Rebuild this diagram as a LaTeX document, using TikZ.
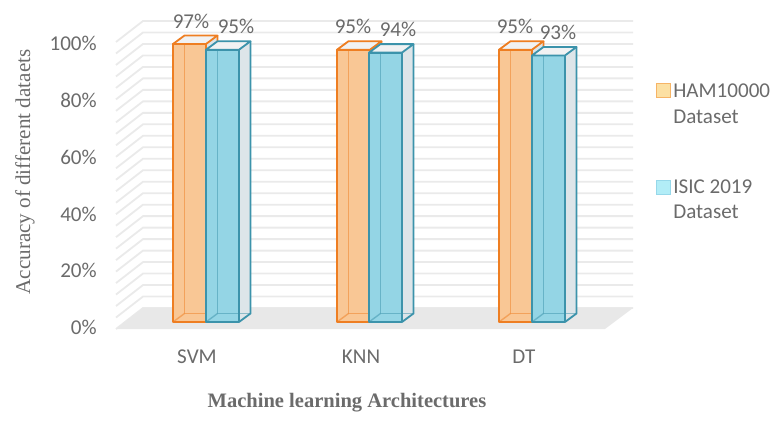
\documentclass[tikz,border=0pt]{standalone}
\usepackage{fontspec}
\setmainfont{Carlito}
\newfontfamily\timesfont{Liberation Serif}
\usepackage{tikz}
\usetikzlibrary{positioning}

\definecolor{hamedge}{HTML}{EE7E22}
\definecolor{hamface}{HTML}{F9C795}
\definecolor{isicedge}{HTML}{3C93AB}
\definecolor{isicface}{HTML}{94D5E5}
\definecolor{sidegray}{HTML}{DDE5E9}
\definecolor{topgray}{HTML}{F1F2F3}
\definecolor{gridgray}{HTML}{EAEAEA}
\definecolor{floorgray}{HTML}{E8E8E8}
\definecolor{labelgray}{HTML}{6B6B6B}
\definecolor{hamkeyface}{HTML}{FCE0A3}
\definecolor{hamkeyedge}{HTML}{F6B466}
\definecolor{isickeyface}{HTML}{B2EDF7}
\definecolor{isickeyedge}{HTML}{97D8EA}

% one 3d bar: left x, value, face colour, edge colour
\newcommand{\accbar}[4]{%
  \pgfmathsetmacro{\bartop}{322-2.866*#2}
  \pgfmathsetmacro{\barright}{#1+33}
  \fill[sidegray] (\barright,322) -- (\barright+11.5,313.5) -- (\barright+11.5,\bartop-8.5) -- (\barright,\bartop) -- cycle;
  \fill[#3] (#1,322) rectangle (\barright,\bartop);
  \draw[#4, line width=1pt, opacity=0.5] (#1+11.5,\bartop-8.5) -- (#1+11.5,313.5) -- (\barright+11.5,313.5);
  \draw[#4, line width=1pt, opacity=0.5] (#1,322) -- (#1+11.5,313.5);
  \filldraw[fill=topgray, draw=#4, barline] (#1,\bartop) -- (#1+11.5,\bartop-8.5) -- (\barright+11.5,\bartop-8.5) -- (\barright,\bartop) -- cycle;
  \draw[#4, barline] (#1,322) rectangle (\barright,\bartop);
  \draw[#4, barline] (\barright,322) -- (\barright+11.5,313.5) -- (\barright+11.5,\bartop-8.5);
}

\begin{document}
\begin{tikzpicture}[x=0.025cm,y=-0.025cm,
  barline/.style={line width=1.3pt, line join=round},
  grid/.style={gridgray, line width=1.3pt},
  ticklabel/.style={anchor=east, inner sep=0pt, text=labelgray, font=\fontsize{15}{18}\selectfont},
  vallabel/.style={inner sep=0pt, text=labelgray, font=\fontsize{15}{18}\selectfont},
  catlabel/.style={inner sep=0pt, text=labelgray, font=\fontsize{15}{18}\selectfont},
  keytext/.style={anchor=base west, inner sep=0pt, text=labelgray, font=\fontsize{15}{18}\selectfont},
  keybox/.style={minimum size=0.34cm, inner sep=0pt, line width=1pt},
  axistitle/.style={inner sep=0pt, text=labelgray, font=\timesfont\fontsize{15}{18}\selectfont}]
  \useasboundingbox (0,0) rectangle (772,421);

  % walls
  \foreach \i in {0,...,25}
    \draw[grid] (116,{329-11.48*\i}) -- (143,{308-11.48*\i}) -- (633,{308-11.48*\i});
  \fill[floorgray] (116,329) -- (605,329) -- (633,308) -- (143,308) -- cycle;

  % bars
  \accbar{173}{97}{hamface}{hamedge}
  \accbar{206}{95}{isicface}{isicedge}
  \accbar{337}{95}{hamface}{hamedge}
  \accbar{369}{94}{isicface}{isicedge}
  \accbar{499}{95}{hamface}{hamedge}
  \accbar{532}{93}{isicface}{isicedge}

  % values
  \node[vallabel] (svmham) at (191,21) {97\%};
  \node[vallabel] (svmisic) at (236,26) {95\%};
  \node[vallabel] (knnham) at (353,26) {95\%};
  \node[vallabel] (knnisic) at (398,29) {94\%};
  \node[vallabel] (dtham) at (515,26) {95\%};
  \node[vallabel] (dtisic) at (558,32) {93\%};

  % axes
  \foreach \p [count=\i from 0] in {0,20,40,60,80,100}
    \node[ticklabel] (tick\p) at (97,{327.5-56.8*\i}) {\p\%};
  \node[catlabel] (svm) at (197,357) {SVM};
  \node[catlabel] (knn) at (361,357) {KNN};
  \node[catlabel] (dt) at (524,357) {DT};
  \node[axistitle, font=\timesfont\bfseries\fontsize{14.6}{18}\selectfont] (xtitle) at (347,403) {Machine learning Architectures};
  \node[axistitle, rotate=90] (ytitle) at (25,172) {Accuracy of different dataets};

  % legend
  \node[keybox, draw=hamkeyedge, fill=hamkeyface] (hamkey) at (663.5,90.5) {};
  \node[keytext] (hamtext) at (673,97) {HAM10000};
  \node[keytext] (hamtext2) at (673,123) {Dataset};
  \node[keybox, draw=isickeyedge, fill=isickeyface] (isickey) at (663.5,187.5) {};
  \node[keytext] (isictext) at (673,193.5) {ISIC 2019};
  \node[keytext] (isictext2) at (673,218.5) {Dataset};
\end{tikzpicture}
\end{document}
